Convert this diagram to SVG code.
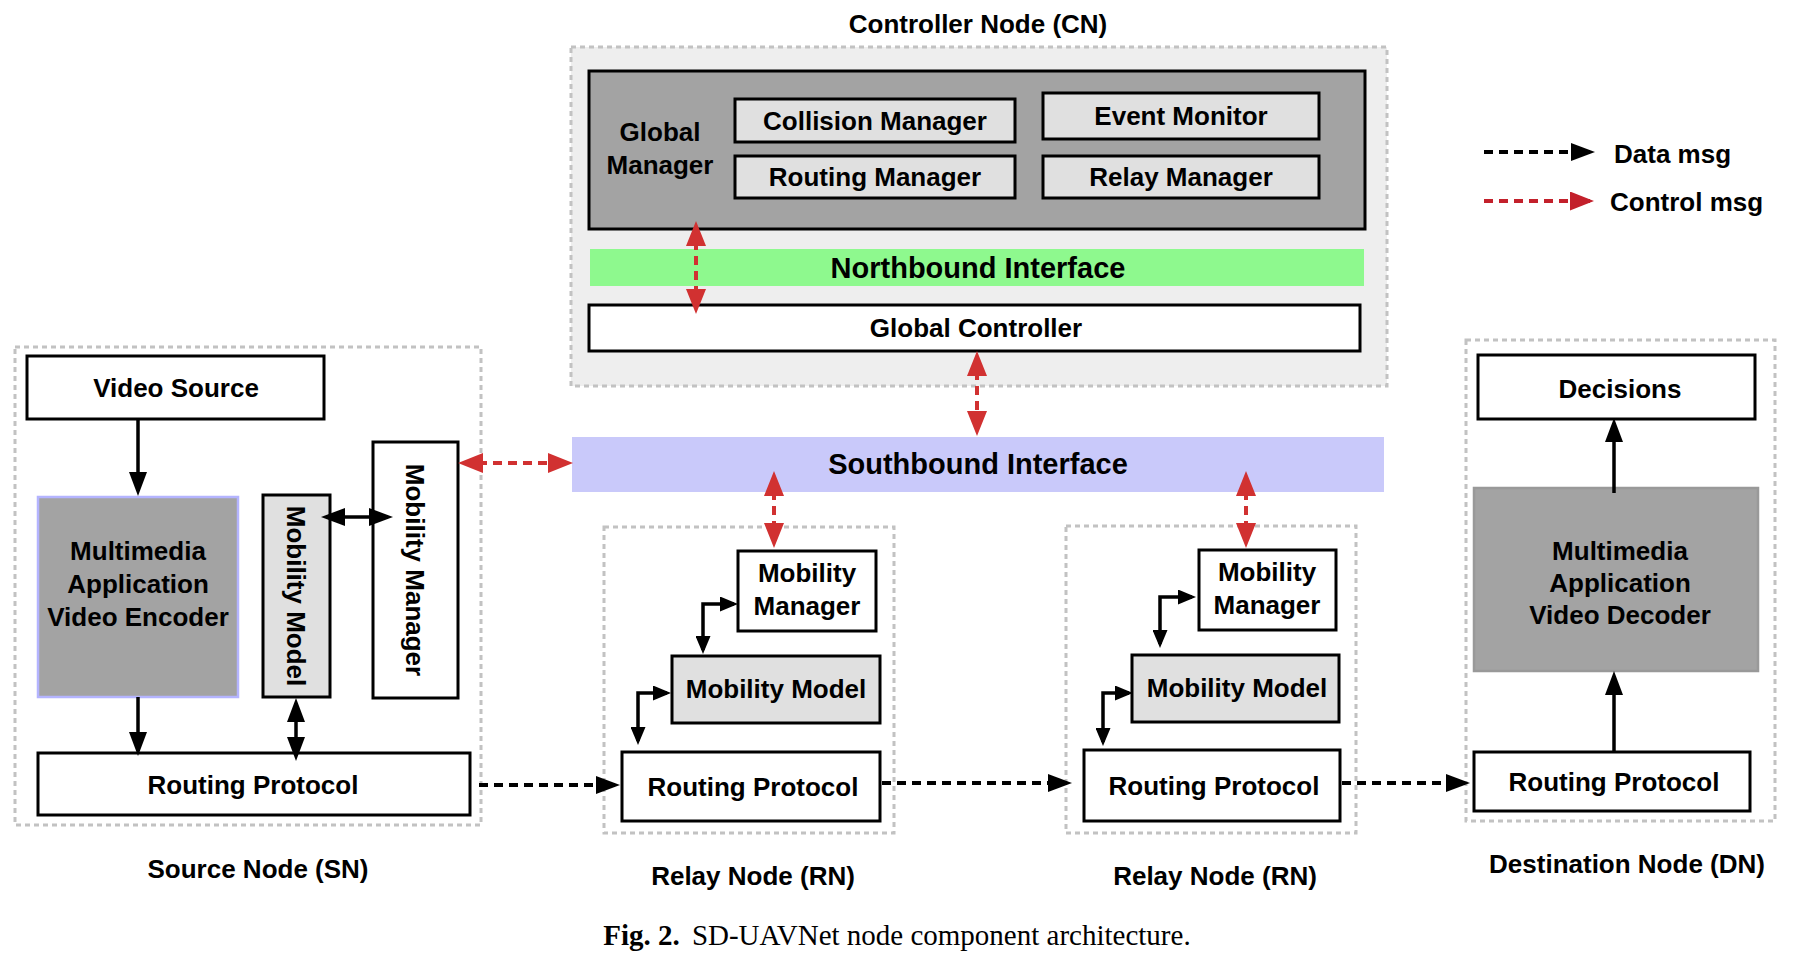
<svg xmlns="http://www.w3.org/2000/svg" width="1797" height="961" viewBox="0 0 1797 961">
<style>
text{font-family:"Liberation Sans",Arial,Helvetica,sans-serif;font-weight:bold;font-size:26px;fill:#000;text-anchor:middle}
.grp{stroke:#c2c2c2;stroke-width:3;stroke-dasharray:5 4}
.box{stroke:#000;stroke-width:3}
.w{fill:#fff}.lg{fill:#e0e0e0}.dg{fill:#a3a3a3}
.arr{fill:none;stroke:#000;stroke-width:3.5}
.el{fill:none;stroke:#000;stroke-width:3.5}
.ctl{fill:none;stroke:#d13131;stroke-width:4;stroke-dasharray:9 6}
.dat{fill:none;stroke:#000;stroke-width:4;stroke-dasharray:9 6}
.cap{font-family:"Liberation Serif","Times New Roman",serif;font-weight:normal;font-size:29px;text-anchor:middle}
</style>
<defs>
<marker id="hb" viewBox="0 0 24 18" refX="19" refY="9" markerWidth="24" markerHeight="18" markerUnits="userSpaceOnUse" orient="auto-start-reverse"><path d="M0,0 L24,9 L0,18 z" fill="#000"/></marker>
<marker id="hs" viewBox="0 0 18 15" refX="14" refY="7.5" markerWidth="18" markerHeight="15" markerUnits="userSpaceOnUse" orient="auto-start-reverse"><path d="M0,0 L18,7.5 L0,15 z" fill="#000"/></marker>
<marker id="hr" viewBox="0 0 25 20" refX="20" refY="10" markerWidth="25" markerHeight="20" markerUnits="userSpaceOnUse" orient="auto-start-reverse"><path d="M0,0 L25,10 L0,20 z" fill="#d13131"/></marker>
<marker id="hl" viewBox="0 0 24 19" refX="20" refY="9.5" markerWidth="24" markerHeight="19" markerUnits="userSpaceOnUse" orient="auto-start-reverse"><path d="M0,0 L24,9.5 L0,19 z" fill="#c3202b"/></marker>
</defs>
<rect width="1797" height="961" fill="#fff"/>

<g id="controller-node">
<text x="978" y="33">Controller Node (CN)</text>
<rect class="grp" x="571" y="47" width="816" height="339" fill="#eeeeee"/>
</g>
<g id="global-manager">
<rect class="box dg" x="589" y="71" width="776" height="158"/>
<text x="660" y="141">Global</text>
<text x="660" y="174">Manager</text>
</g>
<g id="collision-manager"><rect class="box lg" x="735" y="99" width="280" height="43"/><text x="875" y="130">Collision Manager</text></g>
<g id="routing-manager"><rect class="box lg" x="735" y="156" width="280" height="42"/><text x="875" y="186">Routing Manager</text></g>
<g id="event-monitor"><rect class="box lg" x="1043" y="93" width="276" height="46"/><text x="1181" y="125">Event Monitor</text></g>
<g id="relay-manager"><rect class="box lg" x="1043" y="156" width="276" height="42"/><text x="1181" y="186">Relay Manager</text></g>
<g id="northbound"><rect x="590" y="249" width="774" height="37" fill="#8ef98e"/><text x="978" y="278" style="font-size:29px">Northbound Interface</text></g>
<g id="global-controller"><rect class="box w" x="589" y="305" width="771" height="46"/><text x="976" y="337">Global Controller</text></g>
<g id="southbound"><rect x="572" y="437" width="812" height="55" fill="#c9c9fa"/><text x="978" y="474" style="font-size:29px">Southbound Interface</text></g>

<g id="legend">
<path class="dat" d="M1484,152 H1590" marker-end="url(#hb)"/>
<text x="1614" y="163" style="text-anchor:start">Data msg</text>
<path class="ctl" d="M1484,201 H1590" style="stroke:#c3202b" marker-end="url(#hl)"/>
<text x="1610" y="211" style="text-anchor:start">Control msg</text>
</g>

<g id="source-node">
<rect class="grp" x="15" y="347" width="466" height="478" fill="#fff"/>
<text x="258" y="878">Source Node (SN)</text>
</g>
<g id="sn-video-source"><rect class="box w" x="27" y="356" width="297" height="63"/><text x="176" y="397">Video Source</text></g>
<g id="sn-encoder"><rect x="38" y="497" width="200" height="200" fill="#a3a3a3" stroke="#b4b4ff" stroke-width="2.5"/>
<text x="138" y="560">Multimedia</text><text x="138" y="593">Application</text><text x="138" y="626">Video Encoder</text></g>
<g id="sn-mobility-model"><rect class="box lg" x="263" y="495" width="67" height="202"/><text transform="translate(296,596) rotate(90)" y="9">Mobility Model</text></g>
<g id="sn-mobility-manager"><rect class="box w" x="373" y="442" width="85" height="256"/><text transform="translate(415,570) rotate(90)" y="9">Mobility Manager</text></g>
<g id="sn-routing"><rect class="box w" x="38" y="753" width="432" height="62"/><text x="253" y="794">Routing Protocol</text></g>

<g id="relay-node-1">
<rect class="grp" x="604" y="527" width="290" height="306" fill="#fff"/>
<text x="753" y="885">Relay Node (RN)</text>
</g>
<g id="rn1-mobility-manager"><rect class="box w" x="738" y="551" width="138" height="80"/><text x="807" y="582">Mobility</text><text x="807" y="615">Manager</text></g>
<g id="rn1-mobility-model"><rect class="box lg" x="672" y="656" width="208" height="67"/><text x="776" y="698">Mobility Model</text></g>
<g id="rn1-routing"><rect class="box w" x="622" y="752" width="258" height="69"/><text x="753" y="796">Routing Protocol</text></g>

<g id="relay-node-2">
<rect class="grp" x="1066" y="526" width="290" height="307" fill="#fff"/>
<text x="1215" y="885">Relay Node (RN)</text>
</g>
<g id="rn2-mobility-manager"><rect class="box w" x="1199" y="550" width="137" height="80"/><text x="1267" y="581">Mobility</text><text x="1267" y="614">Manager</text></g>
<g id="rn2-mobility-model"><rect class="box lg" x="1132" y="655" width="207" height="67"/><text x="1237" y="697">Mobility Model</text></g>
<g id="rn2-routing"><rect class="box w" x="1084" y="750" width="256" height="71"/><text x="1214" y="795">Routing Protocol</text></g>

<g id="destination-node">
<rect class="grp" x="1466" y="340" width="309" height="481" fill="#fff"/>
<text x="1627" y="873">Destination Node (DN)</text>
</g>
<g id="dn-decisions"><rect class="box w" x="1478" y="355" width="277" height="64"/><text x="1620" y="398">Decisions</text></g>
<g id="dn-decoder"><rect x="1474" y="488" width="284" height="183" fill="#a3a3a3" stroke="#999" stroke-width="2.5"/>
<text x="1620" y="560">Multimedia</text><text x="1620" y="592">Application</text><text x="1620" y="624">Video Decoder</text></g>
<g id="dn-routing"><rect class="box w" x="1474" y="752" width="276" height="59"/><text x="1614" y="791">Routing Protocol</text></g>

<g id="connectors">
<path class="arr" d="M138,419 V491" marker-end="url(#hb)"/>
<path class="arr" d="M138,697 V751" marker-end="url(#hb)"/>
<path class="arr" d="M326,517 H388" marker-start="url(#hb)" marker-end="url(#hb)"/>
<path class="arr" d="M296,703 V756" marker-start="url(#hb)" marker-end="url(#hb)"/>
<path class="el" d="M734,604 H703 V650" marker-start="url(#hs)" marker-end="url(#hs)"/>
<path class="el" d="M667,693 H638 V741" marker-start="url(#hs)" marker-end="url(#hs)"/>
<path class="el" d="M1192,597 H1160 V644" marker-start="url(#hs)" marker-end="url(#hs)"/>
<path class="el" d="M1129,693 H1103 V742" marker-start="url(#hs)" marker-end="url(#hs)"/>
<path class="arr" d="M1614,493 V423" marker-end="url(#hb)"/>
<path class="arr" d="M1614,752 V676" marker-end="url(#hb)"/>
<path class="dat" d="M479,785 H615" marker-end="url(#hb)"/>
<path class="dat" d="M882,783 H1067" marker-end="url(#hb)"/>
<path class="dat" d="M1342,783 H1465" marker-end="url(#hb)"/>
<path class="ctl" d="M696,226 V309" marker-start="url(#hr)" marker-end="url(#hr)"/>
<path class="ctl" d="M977,356 V431" marker-start="url(#hr)" marker-end="url(#hr)"/>
<path class="ctl" d="M463,463 H568" marker-start="url(#hr)" marker-end="url(#hr)"/>
<path class="ctl" d="M774,476 V543" marker-start="url(#hr)" marker-end="url(#hr)"/>
<path class="ctl" d="M1246,476 V543" marker-start="url(#hr)" marker-end="url(#hr)"/>
</g>

<text class="cap" x="897" y="945"><tspan style="font-weight:bold">Fig. 2.</tspan><tspan dx="12">SD-UAVNet node component architecture.</tspan></text>
</svg>
